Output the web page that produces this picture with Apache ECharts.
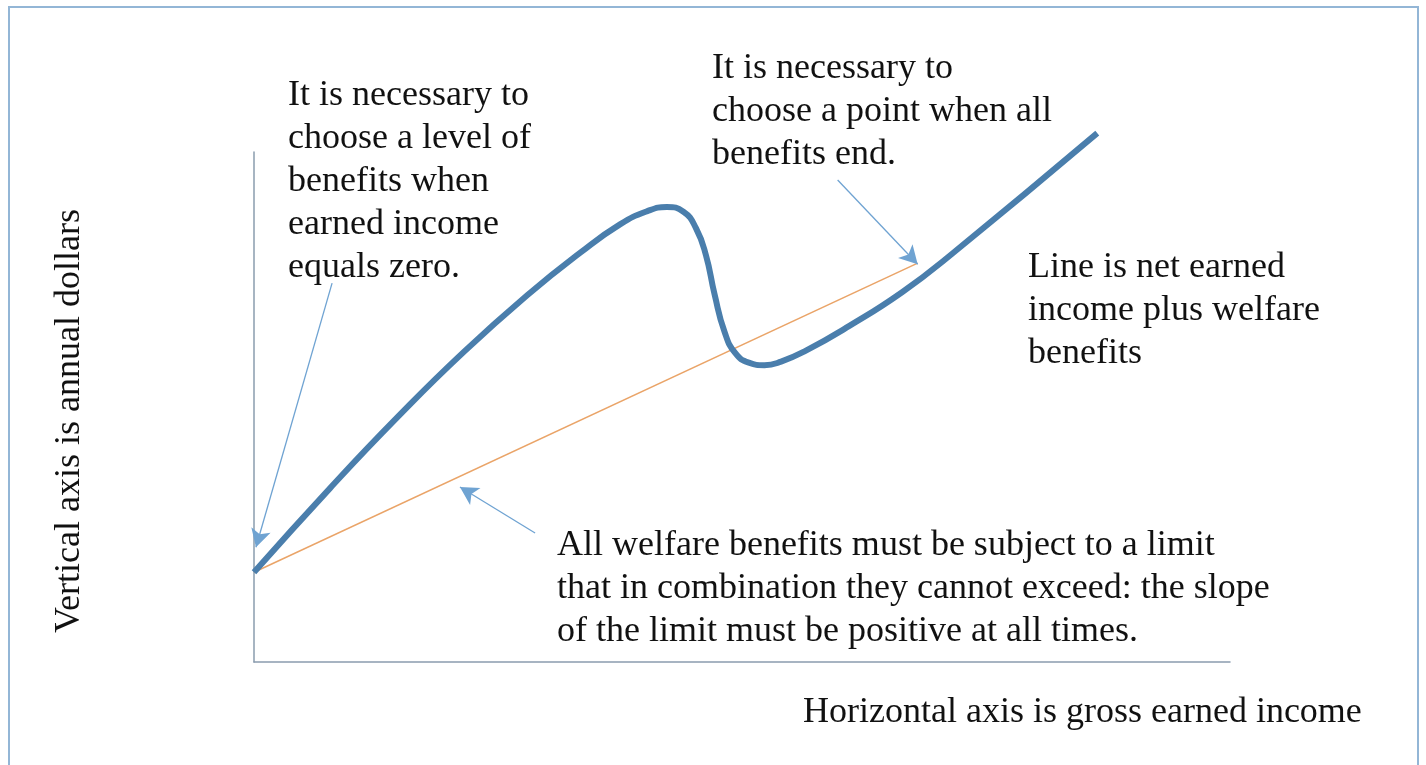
<!DOCTYPE html>
<html>
<head>
<meta charset="utf-8">
<script src="https://cdn.jsdelivr.net/npm/echarts@6/dist/echarts.min.js"></script>
<style>
  html, body { margin: 0; padding: 0; background: #fff; }
  #main { width: 1426px; height: 765px; }
</style>
</head>
<body>
<div id="main"></div>
<script>
// net earned income plus welfare benefits (thick blue curve)
var netX = [0, 7.8, 14.7, 21.5, 28.3, 33.4, 37.5, 40.3, 42.3, 44.0, 45.3, 46.3, 47.2, 48.2, 49.3, 50.7, 52.3, 54.0, 56.5, 61.0, 66.4, 71.5, 86.4];
var netY = [17.6, 34.1, 48.0, 60.8, 72.4, 80.2, 85.8, 88.4, 89.2, 88.3, 85.0, 79.8, 72.0, 64.8, 60.6, 58.7, 58.2, 58.9, 61.0, 65.9, 72.5, 80.0, 103.7];

// the limit line (thin orange)
var limitX = [0, 68.0];
var limitY = [17.6, 78.2];

// arrows: [fromX, fromY, toX, toY]
var arrows = [
  [8.0, 74.3, 0.2, 22.5],
  [59.8, 94.5, 68.0, 78.0],
  [28.8, 25.3, 21.1, 34.3]
];

var noteLevel = ["It is necessary to", "choose a level of", "benefits when", "earned income", "equals zero."];
var notePoint = ["It is necessary to", "choose a point when all", "benefits end."];
var noteLine = ["Line is net earned", "income plus welfare", "benefits"];
var noteLimit = ["All welfare benefits must be subject to a limit", "that in combination they cannot exceed: the slope", "of the limit must be positive at all times."];
var xTitle = "Horizontal axis is gross earned income";
var yTitle = "Vertical axis is annual dollars";

var chartDom = document.getElementById("main");
var myChart = echarts.init(chartDom);

var font = "36px 'Liberation Serif', 'Times New Roman', serif";
function note(lines, left, top) {
  return {
    type: "text",
    left: left,
    top: top,
    style: { text: lines.join("\n"), font: font, fill: "#111", lineHeight: 43 }
  };
}

var option = {
  animation: false,
  backgroundColor: "#fff",
  grid: { left: 254, right: 196, top: 152, bottom: 103 },
  xAxis: {
    type: "value", min: 0, max: 100,
    axisLine: { show: true, lineStyle: { color: "#8a9cae", width: 1.5 } },
    axisTick: { show: false }, axisLabel: { show: false }, splitLine: { show: false }
  },
  yAxis: {
    type: "value", min: 0, max: 100,
    axisLine: { show: true, lineStyle: { color: "#8a9cae", width: 1.5 } },
    axisTick: { show: false }, axisLabel: { show: false }, splitLine: { show: false }
  },
  series: [
    {
      type: "line",
      data: limitX.map(function (x, i) { return [x, limitY[i]]; }),
      symbol: "none",
      clip: false,
      lineStyle: { color: "#eaa468", width: 1.5 },
      z: 2,
      markLine: {
        silent: true,
        symbol: ["none", "arrow"],
        symbolSize: [15, 18],
        label: { show: false },
        lineStyle: { color: "#6fa3d2", width: 1.3, type: "solid" },
        data: arrows.map(function (a) {
          return [{ coord: [a[0], a[1]] }, { coord: [a[2], a[3]] }];
        })
      }
    },
    {
      type: "line",
      data: netX.map(function (x, i) { return [x, netY[i]]; }),
      symbol: "none",
      smooth: 0.5,
      clip: false,
      lineStyle: { color: "#4a7eac", width: 6 },
      z: 3
    }
  ],
  graphic: [
    {
      type: "rect",
      shape: { x: 9, y: 7, width: 1409, height: 800 },
      style: { fill: "none", stroke: "#93b6d6", lineWidth: 2 },
      silent: true
    },
    note(noteLevel, 288, 74),
    note(notePoint, 712, 47),
    note(noteLine, 1028, 246),
    note(noteLimit, 557, 524),
    note([xTitle], 803, 691),
    {
      type: "text",
      x: 70,
      y: 421,
      rotation: Math.PI / 2,
      style: { text: yTitle, font: font, fill: "#111", align: "center", verticalAlign: "middle" }
    }
  ]
};

option && myChart.setOption(option);
</script>
</body>
</html>
